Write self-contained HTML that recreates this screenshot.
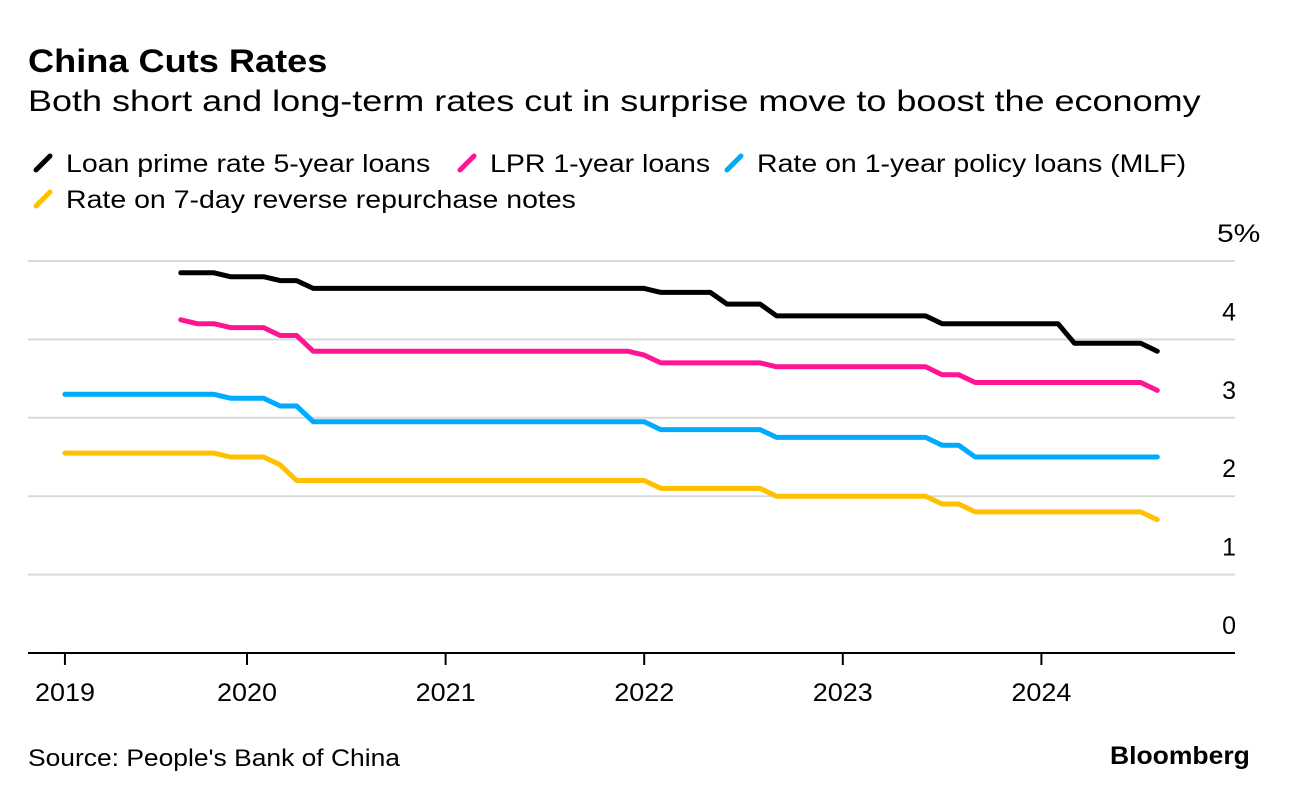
<!DOCTYPE html>
<html><head><meta charset="utf-8"><style>
body{margin:0;background:#fff;font-family:"Liberation Sans",sans-serif;}
#wrap{position:relative;width:1289px;height:802px;overflow:hidden;}
.t{position:absolute;white-space:nowrap;color:#000;transform-origin:left top;}
</style></head><body><div id="wrap">
<div class="t" style="left:28px;top:43px;font-size:32px;font-weight:bold;transform:scaleX(1.13)">China Cuts Rates</div>
<div class="t" style="left:28px;top:85px;font-size:30px;transform:scaleX(1.2)">Both short and long-term rates cut in surprise move to boost the economy</div>
<svg id="chart" width="1289" height="802" style="position:absolute;left:0;top:0"></svg>
<div class="t" style="left:28px;top:745px;font-size:24px;transform:scaleX(1.1)">Source: People's Bank of China</div>
<div class="t" style="left:1110px;top:742px;font-size:25px;font-weight:bold;transform:scaleX(1.06)">Bloomberg</div>
</div>
<script>
// month index: 0 = Jan 2020
const seriesNames=["Loan prime rate 5-year loans","LPR 1-year loans","Rate on 1-year policy loans (MLF)","Rate on 7-day reverse repurchase notes"];
const seriesColors=["#000000","#ff1493","#00aaff","#ffc000"];
const lpr5Months=[-4,-1,2,4,25,29,32,42,50,55];
const lpr5Values=[4.85,4.80,4.75,4.65,4.60,4.45,4.30,4.20,3.95,3.85];
const lpr1Months=[-4,-3,-1,2,4,24,25,32,42,44,55];
const lpr1Values=[4.25,4.20,4.15,4.05,3.85,3.80,3.70,3.65,3.55,3.45,3.35];
const mlfMonths=[-11,-1,2,4,25,32,42,44];
const mlfValues=[3.30,3.25,3.15,2.95,2.85,2.75,2.65,2.50];
const revMonths=[-11,-1,2,3,25,32,42,44,55];
const revValues=[2.55,2.50,2.40,2.20,2.10,2.00,1.90,1.80,1.70];
const endMonth=55;
const yTicks=[0,1,2,3,4,5];
const yTickLabels=["0","1","2","3","4","5%"];
const xTickMonths=[-11,0,12,24,36,48];
const xTickLabels=["2019","2020","2021","2022","2023","2024"];

const svg=document.getElementById('chart');
const NS="http://www.w3.org/2000/svg";
const xs=m=>247+m*16.55;
const ys=v=>653-v*78.4;
function mk(tag,attrs,parent){const e=document.createElementNS(NS,tag);for(const k in attrs)e.setAttribute(k,attrs[k]);(parent||svg).appendChild(e);return e;}
const FF='Liberation Sans, sans-serif';
yTicks.forEach((v,i)=>{
  if(v>0){const g=mk('line',{x1:28,x2:1235,y1:ys(v),y2:ys(v),stroke:'#d9d9d9','stroke-width':2});
  
  }
  const t=mk('text',{x:1236,y:ys(v)-19,'text-anchor':(v===5?'start':'end'),'font-size':25,'font-family':FF});
  if(v===5){t.setAttribute('x',0);t.setAttribute('y',0);t.setAttribute('transform','translate(1217,'+(ys(v)-19)+') scale(1.2,1)');}
  t.textContent=yTickLabels[i];
  
  
});
const ax=mk('line',{x1:28,x2:1235,y1:653,y2:653,stroke:'#000','stroke-width':2});


xTickMonths.forEach((m,i)=>{
  const tk=mk('line',{x1:xs(m),x2:xs(m),y1:653,y2:665,stroke:'#000','stroke-width':2});
  
  
  const t=mk('text',{x:0,y:0,'text-anchor':'middle','font-size':25,'font-family':FF,transform:'translate('+xs(m)+',701) scale(1.08,1)'});
  t.textContent=xTickLabels[i];
  
  
});
const allM=[lpr5Months,lpr1Months,mlfMonths,revMonths];
const allV=[lpr5Values,lpr1Values,mlfValues,revValues];
const keys=['lpr-5y','lpr-1y','mlf','reverse-repo-7d'];
allM.forEach((ms,si)=>{
  const vs=allV[si];let pts=[];let cur=vs[0];let j=0;
  for(let m=ms[0];m<=endMonth;m++){while(j<ms.length&&ms[j]<=m){cur=vs[j];j++;}pts.push(xs(m).toFixed(1)+','+ys(cur).toFixed(1));}
  const p=mk('polyline',{points:pts.join(' '),fill:'none',stroke:seriesColors[si],'stroke-width':5,'stroke-linejoin':'round','stroke-linecap':'round'});
  
  
});
// legend
const legPos=[[36,172],[460,172],[727,172],[36,208]];
seriesNames.forEach((n,i)=>{
  const [x,y]=legPos[i];
  const s=mk('line',{x1:x,y1:y-2,x2:x+14,y2:y-16,stroke:seriesColors[i],'stroke-width':5,'stroke-linecap':'round'});
  
  
  const t=mk('text',{x:0,y:0,'font-size':25,'font-family':FF,transform:'translate('+(x+30)+','+y+') scale(1.14,1)'});
  t.textContent=n;
  
  
});
</script></body></html>
